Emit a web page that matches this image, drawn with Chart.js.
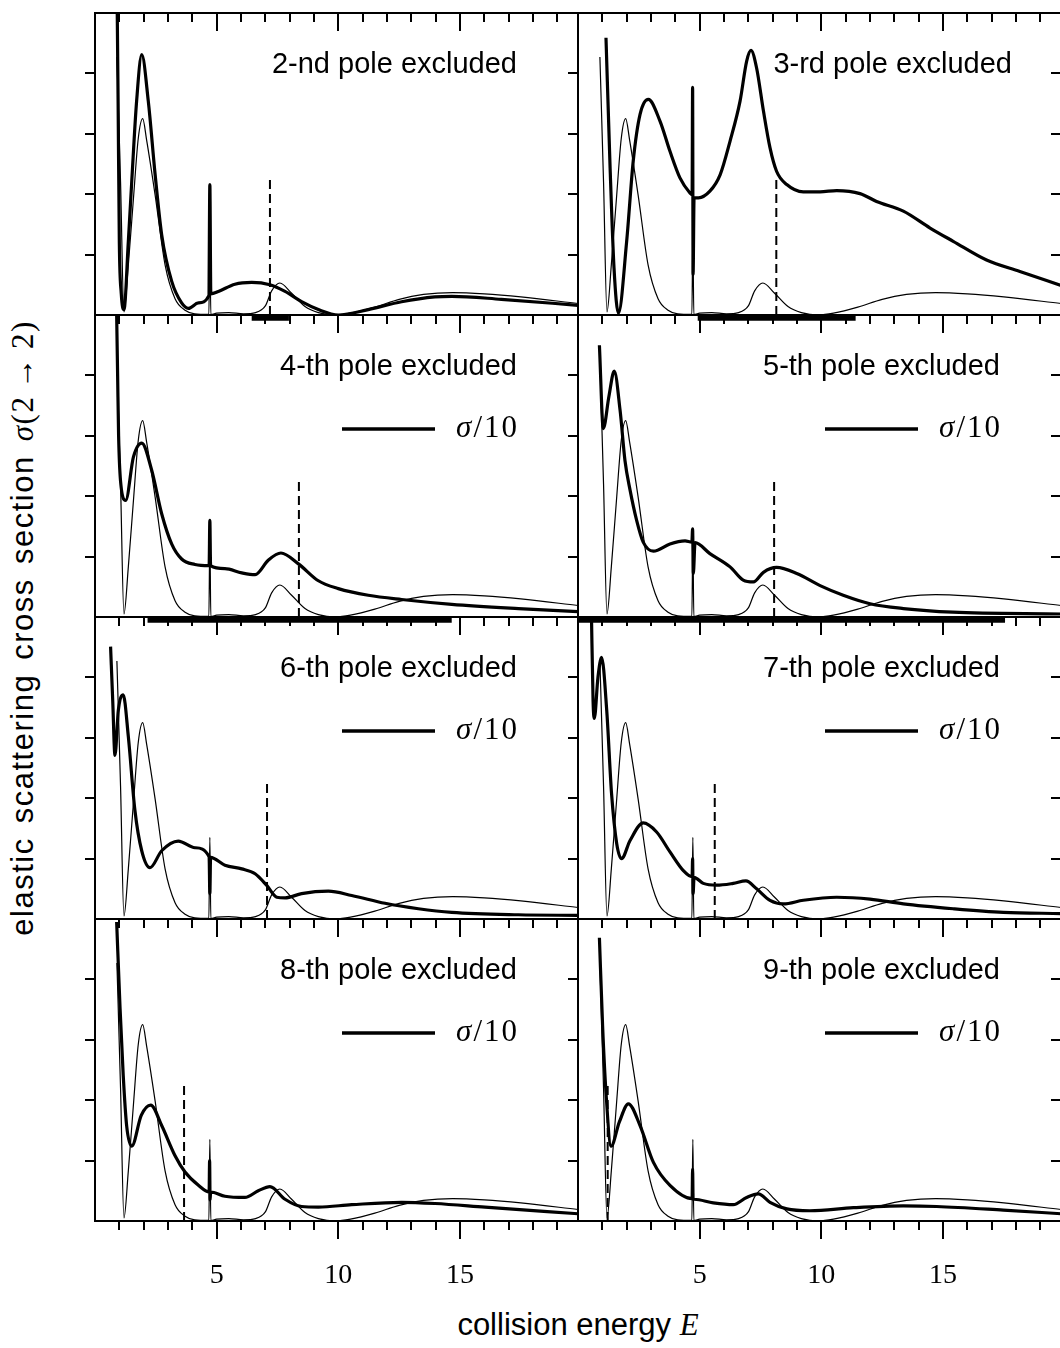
<!DOCTYPE html>
<html>
<head>
<meta charset="utf-8">
<script src="https://cdn.jsdelivr.net/npm/chart.js@4.4.1/dist/chart.umd.min.js"></script>
<style>
  html, body { margin: 0; padding: 0; background: #fff; overflow: hidden; }
  body { position: relative; width: 1060px; height: 1348px; font-family: "Liberation Sans", Arial, sans-serif; color: #000; }
  canvas.panel { position: absolute; }
  .note { position: absolute; font-size: 29px; line-height: 1; white-space: nowrap; }
  .scale { position: absolute; font-family: "Liberation Serif", serif; font-size: 31px; line-height: 1; letter-spacing: 2px; white-space: nowrap; }
  .mi { font-family: "Liberation Serif", serif; font-style: italic; }
  .mr { font-family: "Liberation Serif", serif; }
  .arrow { margin: 0 7px; }
  #ytitle { position: absolute; left: 22px; top: 628px; font-size: 31px; line-height: 1; white-space: nowrap;
            letter-spacing: 1.5px; word-spacing: 4px;
            transform: translate(-50%, -50%) rotate(-90deg); }
  #xtitle { position: absolute; left: 578px; top: 1309px; font-size: 31px; line-height: 1; white-space: nowrap;
            transform: translateX(-50%); }
</style>
</head>
<body>
<div id="ytitle">elastic scattering cross section <span class="mi">σ</span><span class="mr">(2<span class="arrow">→</span>2)</span></div>
<div id="xtitle">collision energy <span class="mi">E</span></div>

<script>
// full cross section (thin curve, same in every panel)
const energyFull = [0.9, 1.05, 1.19, 1.37, 1.58, 1.78, 1.96, 2.12, 2.47, 2.88, 3.29, 3.7, 4.1, 4.68, 4.72, 4.76, 5.0, 5.5, 6.1, 6.6, 7.0, 7.26, 7.6, 8.08, 8.63, 9.18, 9.9, 10.5, 11.5, 12.5, 13.5, 14.7, 16.0, 17.5, 19.85];
const sigmaFull = [4.27, 2.2, 0.05, 0.83, 1.93, 2.93, 3.25, 2.9, 1.99, 0.83, 0.27, 0.08, 0.02, 0.01, 1.35, 0.01, 0.03, 0.04, 0.02, 0.04, 0.15, 0.4, 0.53, 0.36, 0.14, 0.04, 0.0, 0.03, 0.13, 0.26, 0.34, 0.37, 0.35, 0.3, 0.19];

// cross section with one pole excluded (thick curves)
const excl2E = [0.9, 0.95, 1.0, 1.08, 1.19, 1.37, 1.51, 1.71, 1.92, 2.19, 2.47, 2.74, 3.15, 3.56, 3.84, 4.25, 4.68, 4.72, 4.76, 5.07, 5.75, 6.44, 7.19, 7.81, 8.49, 9.18, 10.0, 11.23, 12.6, 13.97, 14.66, 16.7, 19.85];
const excl2S = [5.6, 3.5, 1.2, 0.35, 0.09, 1.22, 2.21, 3.54, 4.31, 3.54, 2.33, 1.33, 0.56, 0.2, 0.11, 0.2, 0.32, 2.16, 0.35, 0.39, 0.51, 0.54, 0.5, 0.39, 0.22, 0.09, 0.0, 0.09, 0.22, 0.3, 0.31, 0.26, 0.16];
const excl3E = [1.15, 1.32, 1.48, 1.66, 2.0, 2.27, 2.55, 2.89, 3.37, 3.78, 4.19, 4.6, 4.69, 4.71, 4.73, 4.77, 4.95, 5.42, 5.84, 6.25, 6.66, 6.93, 7.11, 7.34, 7.62, 7.89, 8.16, 8.58, 9.26, 9.95, 10.63, 11.59, 12.27, 13.37, 14.47, 15.42, 16.79, 18.16, 19.85];
const excl3S = [4.59, 2.43, 0.78, 0.03, 1.22, 2.55, 3.32, 3.57, 3.21, 2.71, 2.27, 2.02, 1.99, 3.77, 0.67, 1.94, 1.94, 2.05, 2.32, 2.88, 3.54, 4.2, 4.38, 4.09, 3.38, 2.77, 2.38, 2.16, 2.04, 2.04, 2.06, 2.01, 1.88, 1.72, 1.44, 1.22, 0.91, 0.72, 0.49];
const excl4E = [0.89, 0.93, 0.97, 1.05, 1.26, 1.58, 1.92, 2.33, 2.74, 3.15, 3.56, 4.11, 4.69, 4.72, 4.75, 5.34, 6.03, 6.58, 7.12, 7.64, 8.36, 9.18, 10.0, 11.23, 12.6, 14.66, 17.4, 19.85];
const excl4S = [5.0, 4.0, 3.0, 2.25, 1.93, 2.65, 2.88, 2.43, 1.71, 1.21, 0.96, 0.87, 0.85, 1.6, 0.85, 0.8, 0.73, 0.7, 0.94, 1.06, 0.88, 0.6, 0.47, 0.36, 0.29, 0.21, 0.14, 0.09];
const excl5E = [0.88, 1.04, 1.27, 1.49, 1.73, 1.93, 2.14, 2.41, 2.68, 3.1, 3.78, 4.4, 4.68, 4.71, 4.74, 4.81, 5.42, 6.25, 6.79, 7.21, 7.62, 8.16, 8.99, 9.95, 10.9, 12.0, 13.37, 15.4, 19.85];
const excl5S = [4.5, 3.12, 3.65, 4.07, 3.42, 2.59, 2.1, 1.6, 1.24, 1.09, 1.21, 1.26, 1.24, 1.46, 0.72, 1.23, 1.05, 0.83, 0.61, 0.58, 0.74, 0.82, 0.72, 0.52, 0.36, 0.22, 0.14, 0.08, 0.05];
const excl6E = [0.64, 0.73, 0.82, 0.96, 1.16, 1.37, 1.64, 1.92, 2.26, 2.74, 3.42, 4.11, 4.69, 4.72, 4.75, 5.34, 6.03, 6.58, 7.05, 7.47, 7.81, 8.49, 9.59, 10.55, 11.92, 13.29, 14.66, 17.4, 19.85];
const excl6S = [4.51, 3.6, 2.71, 3.46, 3.71, 3.02, 1.8, 1.13, 0.85, 1.13, 1.29, 1.18, 1.03, 0.42, 1.02, 0.89, 0.83, 0.75, 0.56, 0.36, 0.35, 0.42, 0.46, 0.39, 0.26, 0.17, 0.11, 0.07, 0.06];
const excl7E = [0.55, 0.62, 0.67, 0.82, 0.97, 1.18, 1.38, 1.59, 1.79, 2.14, 2.68, 3.23, 3.78, 4.33, 4.69, 4.71, 4.73, 4.77, 5.15, 5.7, 6.38, 6.9, 7.34, 7.89, 8.44, 9.26, 10.63, 12.0, 13.37, 15.42, 17.48, 19.85];
const excl7S = [5.1, 3.6, 3.32, 4.0, 4.33, 3.46, 2.07, 1.25, 1.0, 1.3, 1.59, 1.44, 1.11, 0.8, 0.7, 1.0, 0.42, 0.69, 0.59, 0.56, 0.59, 0.63, 0.5, 0.31, 0.25, 0.31, 0.36, 0.33, 0.25, 0.17, 0.11, 0.09];
const excl8E = [0.89, 1.03, 1.16, 1.3, 1.51, 1.9, 2.29, 2.74, 3.29, 3.7, 4.25, 4.69, 4.71, 4.73, 4.75, 5.34, 6.16, 6.71, 7.19, 7.81, 8.49, 9.18, 10.55, 12.6, 13.97, 16.03, 19.85];
const excl8S = [4.95, 3.52, 2.41, 1.58, 1.24, 1.75, 1.92, 1.58, 1.08, 0.81, 0.59, 0.48, 1.0, 0.35, 0.48, 0.41, 0.39, 0.5, 0.57, 0.36, 0.24, 0.23, 0.27, 0.31, 0.29, 0.23, 0.12];
const excl9E = [0.88, 1.01, 1.15, 1.36, 1.7, 2.07, 2.55, 3.1, 3.78, 4.69, 4.71, 4.73, 4.77, 5.56, 6.38, 6.93, 7.41, 7.89, 8.58, 9.53, 11.32, 13.37, 14.74, 17.48, 19.85];
const excl9S = [4.69, 3.24, 2.13, 1.24, 1.64, 1.94, 1.58, 0.97, 0.59, 0.37, 0.86, 0.36, 0.36, 0.3, 0.27, 0.39, 0.45, 0.31, 0.2, 0.17, 0.22, 0.25, 0.24, 0.18, 0.12];

// position of the excluded pole (dashed line) and the marked energy ranges
const poleE = [7.19, 8.15, 8.38, 8.06, 7.07, 5.62, 3.66, 1.22];
const poleMarkHeight = 2.3;
const bandFrom = [6.44, 4.92, 2.16, 0.0, null, null, null, null];
const bandTo = [7.97, 11.41, 14.66, 17.55, null, null, null, null];

const panelNames = ['2-nd pole excluded', '3-rd pole excluded', '4-th pole excluded', '5-th pole excluded',
                    '6-th pole excluded', '7-th pole excluded', '8-th pole excluded', '9-th pole excluded'];
const scaledDown = [false, false, true, true, true, true, true, true];

const xTicks = [1, 2, 3, 4, 5, 6, 7, 8, 9, 10, 11, 12, 13, 14, 15, 16, 17, 18, 19];
const xTickLabels = [5, 10, 15];
const yTicks = [1, 2, 3, 4];

const thickE = [excl2E, excl3E, excl4E, excl5E, excl6E, excl7E, excl8E, excl9E];
const thickS = [excl2S, excl3S, excl4S, excl5S, excl6S, excl7S, excl8S, excl9S];

// geometry of the grid
const colLeft = [95, 578];
const rowTop = [13, 315, 617, 919];
const panelW = 483;
const panelH = 302;

function toPoints(xs, ys) {
    return xs.map(function (e, k) { return { x: e, y: ys[k] }; });
}

// frame, ticks, legend sample and tick labels of each panel
const panelFrame = {
    id: 'panelFrame',
    afterDatasetsDraw(chart, args, opts) {
        const ctx = chart.ctx;
        const a = chart.chartArea;
        const xs = chart.scales.x, ys = chart.scales.y;
        ctx.save();
        ctx.strokeStyle = '#000';
        ctx.lineWidth = 2;
        ctx.strokeRect(a.left, a.top, a.right - a.left, a.bottom - a.top);
        ctx.beginPath();
        xTicks.forEach(function (v) {
            const px = Math.round(xs.getPixelForValue(v));
            const len = v % 5 === 0 ? 18 : 9;
            ctx.moveTo(px, a.top); ctx.lineTo(px, a.top + len);
            ctx.moveTo(px, a.bottom); ctx.lineTo(px, a.bottom + len);
        });
        yTicks.forEach(function (v) {
            const py = Math.round(ys.getPixelForValue(v));
            ctx.moveTo(a.left - 10, py); ctx.lineTo(a.left, py);
            ctx.moveTo(a.right - 10, py); ctx.lineTo(a.right, py);
        });
        ctx.stroke();
        if (opts.legend) {
            // sample of the thick line next to sigma/10
            ctx.lineWidth = 3.5;
            ctx.beginPath();
            ctx.moveTo(a.left + 247, a.top + 114);
            ctx.lineTo(a.left + 340, a.top + 114);
            ctx.stroke();
        }
        if (opts.tickLabels) {
            ctx.fillStyle = '#000';
            ctx.font = '28px "Liberation Serif", serif';
            ctx.textAlign = 'center';
            ctx.textBaseline = 'alphabetic';
            xTickLabels.forEach(function (v) {
                ctx.fillText(String(v), xs.getPixelForValue(v), a.bottom + 62);
            });
        }
        ctx.restore();
    }
};

function makePanel(i) {
    const col = i % 2, row = Math.floor(i / 2);
    const padL = 14, padR = 6, padT = 6, padB = row === 3 ? 70 : 24;
    const canvas = document.createElement('canvas');
    canvas.className = 'panel';
    canvas.width = panelW + padL + padR;
    canvas.height = panelH + padT + padB;
    canvas.style.left = (colLeft[col] - padL) + 'px';
    canvas.style.top = (rowTop[row] - padT) + 'px';
    document.body.appendChild(canvas);

    const datasets = [];
    if (bandFrom[i] !== null) {
        datasets.push({
            data: [{ x: bandFrom[i], y: -0.05 }, { x: bandTo[i], y: -0.05 }],
            borderColor: '#000', borderWidth: 5.5, pointRadius: 0, clip: false
        });
    }
    datasets.push({
        data: [{ x: poleE[i], y: 0 }, { x: poleE[i], y: poleMarkHeight }],
        borderColor: '#000', borderWidth: 2, borderDash: [9, 5], pointRadius: 0
    });
    datasets.push({
        data: toPoints(energyFull, sigmaFull),
        borderColor: '#000', borderWidth: 1.2, pointRadius: 0,
        cubicInterpolationMode: 'monotone'
    });
    datasets.push({
        data: toPoints(thickE[i], thickS[i]),
        borderColor: '#000', borderWidth: 3.2, pointRadius: 0,
        cubicInterpolationMode: 'monotone'
    });

    new Chart(canvas.getContext('2d'), {
        type: 'line',
        data: { datasets: datasets },
        options: {
            responsive: false,
            animation: false,
            devicePixelRatio: 1,
            layout: { padding: { left: padL, right: padR, top: padT, bottom: padB } },
            scales: {
                x: { type: 'linear', min: 0, max: 19.85, display: false },
                y: { type: 'linear', min: 0, max: 5, display: false }
            },
            plugins: {
                legend: { display: false },
                tooltip: { enabled: false },
                panelFrame: { legend: scaledDown[i], tickLabels: row === 3 }
            }
        },
        plugins: [panelFrame]
    });

    // panel caption and sigma/10 note
    const right = colLeft[col] + (i === 1 ? 434 : 422);
    const cap = document.createElement('div');
    cap.className = 'note';
    cap.textContent = panelNames[i];
    cap.style.right = (1060 - right) + 'px';
    cap.style.top = (rowTop[row] + 36) + 'px';
    document.body.appendChild(cap);
    if (scaledDown[i]) {
        const s = document.createElement('div');
        s.className = 'scale';
        s.innerHTML = '<span class="mi">σ</span>/10';
        s.style.right = (1060 - colLeft[col] - 424) + 'px';
        s.style.top = (rowTop[row] + 96) + 'px';
        document.body.appendChild(s);
    }
}

for (let i = 0; i < 8; i++) makePanel(i);
</script>
</body>
</html>
